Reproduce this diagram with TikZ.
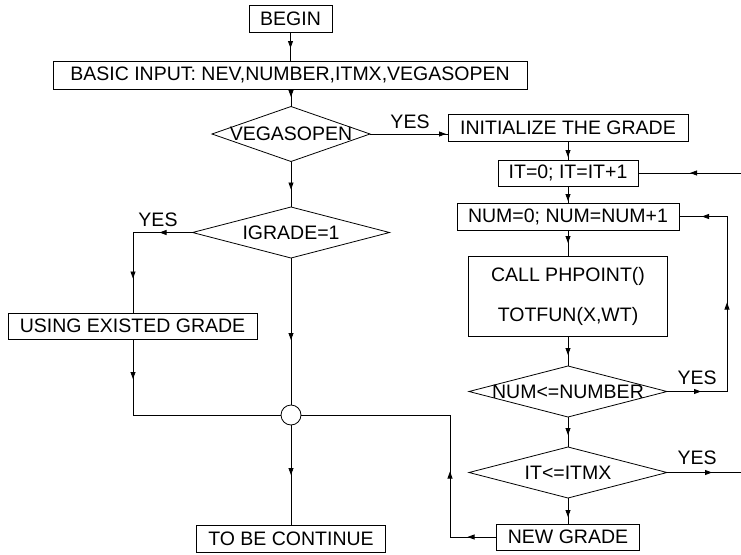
\documentclass[tikz,border=0pt]{standalone}
\usepackage{fontspec}
\setmainfont{Liberation Sans}
\usetikzlibrary{shapes.geometric,arrows.meta,decorations.markings}
\begin{document}
\begin{tikzpicture}[x=1pt,y=-1pt,
  font=\fontsize{19.5}{23.4}\selectfont,
  every node/.style={inner sep=0pt, outer sep=0pt},
  box/.style={draw, line width=0.8pt, rectangle, fill=white},
  dia/.style={draw, line width=0.8pt, diamond, fill=white},
  junction/.style={draw, line width=0.8pt, circle, fill=white, minimum size=20pt},
  conn/.style={draw, line width=0.8pt, line join=miter},
  tipat/.style={postaction={decorate, decoration={markings,
      mark=at position #1 with {\arrow{Triangle[length=7pt,width=5pt]}}}}}
]
\useasboundingbox[fill=white] (0,0) rectangle (741,554);

% left column
\node[box, minimum width=83, minimum height=27] (begin) at (290.5,18.5) {BEGIN};
\node[box, minimum width=474, minimum height=28] (basic) at (290,75) {BASIC INPUT: NEV,NUMBER,ITMX,VEGASOPEN};
\node[dia, minimum width=158, minimum height=55, label={center:{VEGASOPEN}}] (veg) at (291,134) {};
\node[dia, minimum width=197, minimum height=51, label={center:{IGRADE=1}}] (igrade) at (291,232.5) {};
\node[box, minimum width=249, minimum height=26] (use) at (132.5,326) {USING EXISTED GRADE};
\node[junction] (circ) at (291,415) {};
\node[box, minimum width=189, minimum height=27] (tobe) at (291,538.5) {TO BE CONTINUE};

% right column
\node[box, minimum width=240, minimum height=27] (init) at (568,127.5) {INITIALIZE THE GRADE};
\node[box, minimum width=140, minimum height=26] (itbox) at (568,173) {IT=0; IT=IT+1};
\node[box, minimum width=222, minimum height=27] (num) at (568,216.5) {NUM=0; NUM=NUM+1};
\node[box, minimum width=199, minimum height=80, align=center] (call) at (568,296) {CALL PHPOINT()\\[16.6pt]TOTFUN(X,WT)};
\node[dia, minimum width=198, minimum height=51, label={center:{NUM<=NUMBER}}] (numle) at (568,391.5) {};
\node[dia, minimum width=198, minimum height=51, label={center:{IT<=ITMX}}] (itle) at (568,472.5) {};
\node[box, minimum width=143, minimum height=26] (newg) at (568,537) {NEW GRADE};

% labels
\node (yes1) at (410,122) {YES};
\node (yes2) at (158,220) {YES};
\node (yes3) at (697,378) {YES};
\node (yes4) at (697,458) {YES};

% helper coordinates
\coordinate (itin) at (741,173);
\coordinate (loopA) at (727,391.5);
\coordinate (loopB) at (727,216.5);
\coordinate (itout) at (741,472.5);
\coordinate (backA) at (450,537);
\coordinate (backB) at (450,415);
\coordinate (leftA) at (133,232.5);
\coordinate (leftB) at (133,415);

% connectors, main column
\draw[conn, tipat=16pt] (begin.south) -- (begin.south |- basic.north);
\draw[conn, tipat=8pt] (basic.south -| veg.north) -- (veg.north);
\draw[conn, tipat=28pt] (veg.south) -- (igrade.north);
\draw[conn, tipat=82pt] (igrade.south) -- (circ.north);
\draw[conn, tipat=50pt] (circ.south) -- (circ.south |- tobe.north);
\draw[conn, tipat=33pt, tipat=105.5pt] (igrade.west) -- (leftA) -- (leftA |- use.north);
\draw[conn, tipat=40pt] (leftA |- use.south) -- (leftB) -- (circ.west);

% YES to the right column
\draw[conn, tipat=76pt] (veg.east) -- (veg.east -| init.west);
\draw[conn, tipat=16pt] (init.south) -- (itbox.north);
\draw[conn, tipat=15pt] (itbox.south) -- (num.north);
\draw[conn, tipat=13pt] (num.south) -- (call.north);
\draw[conn, tipat=19pt] (call.south) -- (numle.north);
\draw[conn, tipat=18pt] (numle.south) -- (itle.north);
\draw[conn, tipat=19pt] (itle.south) -- (newg.north);

% loops
\draw[conn, tipat=34pt, tipat=149pt, tipat=260pt] (numle.east) -- (loopA) -- (loopB) -- (num.east);
\draw[conn, tipat=45pt] (itle.east) -- (itout);
\draw[conn, tipat=51pt] (itin) -- (itbox.east);
\draw[conn, tipat=29pt, tipat=112pt] (newg.west) -- (backA) -- (backB) -- (circ.east);
\end{tikzpicture}
\end{document}
